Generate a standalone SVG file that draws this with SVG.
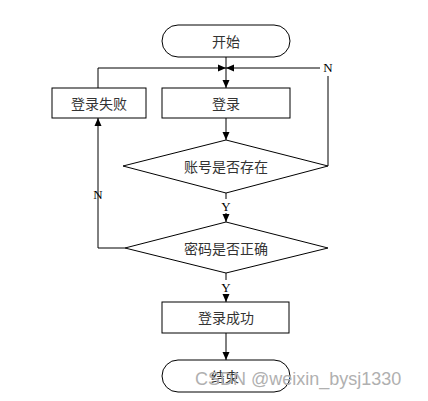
<svg xmlns="http://www.w3.org/2000/svg" width="428" height="401" viewBox="0 0 428 401">
<style>
.shape{fill:#fff;stroke:#000;stroke-width:1}
.lbl{font-family:"Noto Sans CJK SC","Noto Sans",sans-serif;font-size:14px;fill:#333;text-anchor:middle;dominant-baseline:central}
.yn{font-family:"Liberation Serif",serif;font-size:13px;fill:#000;text-anchor:middle;dominant-baseline:central}
.ln{fill:none;stroke:#000;stroke-width:1}
</style>
<defs>
<marker id="ah" markerUnits="userSpaceOnUse" markerWidth="8" markerHeight="8" refX="8" refY="4" orient="auto">
<path d="M0,0.5 L8,4 L0,7.5 z" fill="#000"/>
</marker>
</defs>
<rect width="428" height="401" fill="#fff"/>
<g id="connectors">
<path class="ln" d="M226,57 V88" marker-end="url(#ah)"/>
<path class="ln" d="M98,88 V68 H226" marker-end="url(#ah)"/>
<path class="ln" d="M328,166 V76"/>
<path class="ln" d="M320,68 H226" marker-end="url(#ah)"/>
<path class="ln" d="M226,118 V140" marker-end="url(#ah)"/>
<path class="ln" d="M226,193 V199"/>
<path class="ln" d="M226,213 V222" marker-end="url(#ah)"/>
<path class="ln" d="M125,248 H98 V118" marker-end="url(#ah)"/>
<path class="ln" d="M226,273 V280"/>
<path class="ln" d="M226,294 V302" marker-end="url(#ah)"/>
<path class="ln" d="M226,333 V360" marker-end="url(#ah)"/>
<text class="yn" x="328" y="67">N</text>
<text class="yn" x="226" y="206">Y</text>
<text class="yn" x="98" y="194">N</text>
<text class="yn" x="226" y="287">Y</text>
</g>
<g id="start">
<rect class="shape" x="162" y="25" width="128" height="32" rx="16"/>
<text class="lbl" x="226" y="41">开始</text>
</g>
<g id="login">
<rect class="shape" x="162" y="88" width="128" height="30"/>
<text class="lbl" x="226" y="103">登录</text>
</g>
<g id="loginFail">
<rect class="shape" x="52" y="88" width="94" height="30"/>
<text class="lbl" x="99" y="103">登录失败</text>
</g>
<g id="checkAccount">
<polygon class="shape" points="226,140 328,166 226,193 123,166"/>
<text class="lbl" x="226" y="166">账号是否存在</text>
</g>
<g id="checkPassword">
<polygon class="shape" points="226,222 328,248 226,273 125,248"/>
<text class="lbl" x="226" y="248">密码是否正确</text>
</g>
<g id="loginSuccess">
<rect class="shape" x="162" y="302" width="127" height="31"/>
<text class="lbl" x="226" y="317">登录成功</text>
</g>
<g id="end">
<rect class="shape" x="162" y="360" width="128" height="32" rx="16"/>
<text class="lbl" x="225" y="376">结束</text>
</g>
<text x="195" y="385" font-family="Liberation Sans,Arial,sans-serif" font-size="18" fill="#b0b0b0">CSDN @weixin_bysj1330</text>
</svg>
